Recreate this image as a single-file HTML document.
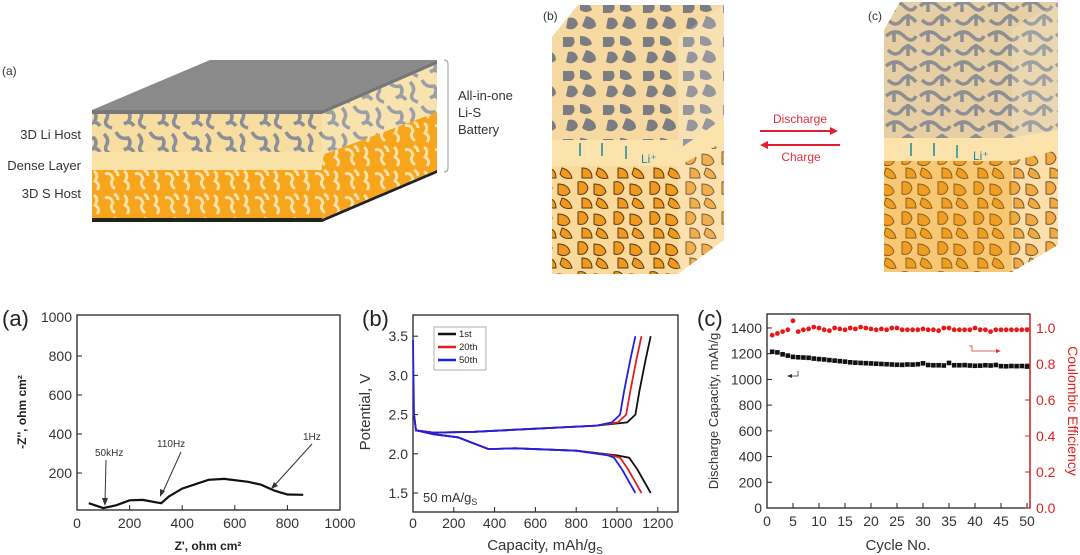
<!DOCTYPE html>
<html><head><meta charset="utf-8"><style>
html,body{margin:0;padding:0;background:#fff;}
svg{display:block;font-family:"Liberation Sans",Arial,sans-serif;}
</style></head><body>
<svg id="s" width="1080" height="555" viewBox="0 0 1080 555" xmlns="http://www.w3.org/2000/svg">
<defs>
<pattern id="li" width="34" height="26" patternUnits="userSpaceOnUse">
<rect width="34" height="26" fill="#f7dea0"/>
<path d="M2 4 q6 6 2 12 q-2 6 6 8 M14 2 q4 8 12 6 q4 4 0 10 M22 20 q6-4 10 2" stroke="#8a8e99" stroke-width="3.5" fill="none"/>
</pattern>
<pattern id="sh" width="30" height="24" patternUnits="userSpaceOnUse">
<rect width="30" height="24" fill="#f6a51c"/>
<path d="M4 3 q5 4 1 10 q6 4 2 9 M15 6 q6-2 8 5 q-4 5 2 10 M24 2 q4 2 4 6" stroke="#fbe0a8" stroke-width="3" fill="none"/>
</pattern>
<pattern id="gb" width="40" height="34" patternUnits="userSpaceOnUse">
<rect width="40" height="34" fill="#f5d9a0"/>
<path d="M3 3 h10 q4 6 -2 10 h-8z M20 2 q10 0 12 8 q-6 4 -12 0z M8 18 q8-2 10 6 q-4 8 -12 4z M26 16 q10 2 10 10 q-6 6 -14 0z" fill="#7b7d83"/>
</pattern>
<pattern id="ob" width="36" height="30" patternUnits="userSpaceOnUse">
<rect width="36" height="30" fill="#fbd99b"/>
<path d="M2 2 q8 -2 10 6 q-2 8 -10 6z M18 4 q10 0 12 8 q-4 6 -12 2z M6 18 q10 0 10 10 h-10z M22 18 q8 2 10 10 q-8 2 -12 -4z" fill="#ef9a1e" stroke="#5a3a10" stroke-width="1"/>
</pattern>
<pattern id="gr" width="34" height="30" patternUnits="userSpaceOnUse">
<rect width="34" height="30" fill="#e7cfa5"/>
<path d="M2 6 q10 -8 18 0 q8 8 12 0 M4 20 q8 8 14 0 q6 -8 14 2 M10 2 v10 M24 14 v12" stroke="#8e8f92" stroke-width="3.5" fill="none"/>
</pattern>
</defs>

<text x="2" y="75" font-size="12" fill="#333">(a)</text>
<polygon points="92,110 210,60 437,60 322,110" fill="#8a8a8a"/>
<rect x="92" y="110" width="230" height="4" fill="#777"/>
<rect x="92" y="114" width="230" height="38" fill="url(#li)"/>
<rect x="92" y="152" width="230" height="18" fill="#fbe3a8"/>
<rect x="92" y="170" width="230" height="49" fill="url(#sh)"/>
<rect x="92" y="218" width="230" height="4" fill="#222"/>
<polygon points="322,114 437,64 437,112 322,155" fill="url(#li)" opacity="0.85"/>
<polygon points="322,110 437,60 437,64 322,114" fill="#777"/>
<polygon points="322,155 437,112 437,170 322,219" fill="url(#sh)"/>
<polygon points="322,219 437,170 437,173 322,222" fill="#222"/>
<g font-size="13" fill="#333" text-anchor="end">
<text x="81" y="139">3D Li Host</text><text x="81" y="170">Dense Layer</text><text x="81" y="198">3D S Host</text></g>
<path d="M444 60 q4 0 4 4 v104 q0 4 -4 4" stroke="#999" fill="none"/>
<g font-size="13" fill="#333"><text x="458" y="100">All-in-one</text><text x="458" y="117">Li-S</text><text x="458" y="134">Battery</text></g>

<text x="543" y="20" font-size="12" fill="#333">(b)</text>
<polygon points="552,37 578,5 724,5 678,37" fill="url(#gb)"/>
<rect x="552" y="37" width="126" height="104" fill="url(#gb)"/>
<polygon points="678,37 724,5 724,118 678,150" fill="url(#gb)" opacity="0.8"/>
<rect x="552" y="140" width="126" height="26" fill="#fbe3ab"/>
<polygon points="678,150 724,118 724,142 678,166" fill="#fbe3ab"/>
<rect x="552" y="166" width="126" height="108" fill="url(#ob)"/>
<polygon points="678,166 724,142 724,240 678,274" fill="url(#ob)" opacity="0.8"/>
<g stroke="#1a8aa0" stroke-width="1.5" fill="#1a8aa0"><path d="M580 143 v13"/><path d="M602 143 v13"/><path d="M626 146 v13"/></g>
<text x="641" y="163" font-size="12" fill="#1a8aa0">Li⁺</text>

<text x="800" y="123" font-size="12" fill="#e03040" text-anchor="middle">Discharge</text>
<path d="M760 131 h76" stroke="#e02030" stroke-width="2"/><polygon points="838,131 830,127 830,135" fill="#e02030"/>
<path d="M764 145 h76" stroke="#e02030" stroke-width="2"/><polygon points="760,145 768,141 768,149" fill="#e02030"/>
<text x="801" y="161" font-size="12" fill="#e03040" text-anchor="middle">Charge</text>

<text x="868" y="20" font-size="12" fill="#333">(c)</text>
<polygon points="884,30 900,2 1058,2 1012,30" fill="url(#gr)"/>
<rect x="884" y="30" width="128" height="108" fill="url(#gr)"/>
<polygon points="1012,30 1058,2 1058,130 1012,138" fill="url(#gr)" opacity="0.85"/>
<rect x="884" y="138" width="128" height="23" fill="#fbe3ab"/>
<polygon points="1012,138 1058,130 1058,150 1012,161" fill="#fbe3ab"/>
<rect x="884" y="161" width="128" height="111" fill="url(#ob)"/>
<rect x="884" y="161" width="128" height="111" fill="#f3a52a" opacity="0.35"/>
<polygon points="1012,161 1058,150 1058,245 1012,272" fill="url(#ob)" opacity="0.85"/>
<g stroke="#1a8aa0" stroke-width="1.5" fill="none"><path d="M911 156 v-13"/><path d="M934 156 v-13"/><path d="M957 158 v-13"/></g>
<text x="973" y="160" font-size="12" fill="#1a8aa0">Li⁺</text>

<text x="2" y="326" font-size="22" fill="#222">(a)</text>
<rect x="77" y="315" width="263" height="195" fill="none" stroke="#222" stroke-width="1.3"/>
<g id="axa" font-size="14" fill="#333"></g>
<path d="M88.8,503.2 L103.3,508.1 L116.5,505.2 L129.6,500.3 L142.8,499.9 L155.9,502.3 L161.2,503.2 L169,496.4 L182.2,488.6 L208.5,479.8 L224.3,478.9 L248,481.8 L261.1,484.7 L274.3,490.6 L287.4,494.5 L303.2,494.8" stroke="#111" stroke-width="2.2" fill="none"/>
<g font-size="10" fill="#333"><text x="95" y="456">50kHz</text><text x="157" y="447">110Hz</text><text x="303" y="440">1Hz</text></g>
<g stroke="#333" stroke-width="1"><path d="M106 460 L105 502"/><path d="M181 452 L162 494"/><path d="M312 444 L274 486"/></g>
<g fill="#333"><polygon points="105,506 102,498 108,498"/><polygon points="160,497 160,489 165,491"/><polygon points="271,489 274,482 278,486"/></g>
<text x="208" y="550" font-size="12" font-weight="bold" text-anchor="middle" fill="#222">Z', ohm cm²</text>
<text transform="translate(26,412) rotate(-90)" font-size="12" font-weight="bold" text-anchor="middle" fill="#222">-Z'', ohm cm²</text>

<text x="362" y="326" font-size="22" fill="#222">(b)</text>
<rect x="413" y="315" width="265" height="197" fill="none" stroke="#222" stroke-width="1.3"/>
<g id="axb" font-size="14" fill="#333"></g>
<g fill="none" stroke-width="1.8">
<path d="M415,430.3 L433.4,432.6 L474.2,431.8 L535.4,428.7 L596.6,425.6 L627.2,422.4 L635.4,414.6 L639.4,391.1 L645.6,359.7 L650.7,336.2" stroke="#111"/>
<path d="M415,430.3 L433.4,432.6 L474.2,431.8 L535.4,428.7 L596.6,425.6 L618,422.4 L626.2,414.6 L630.3,391.1 L636.4,359.7 L641.5,336.2" stroke="#e02020"/>
<path d="M415,430.3 L433.4,432.6 L474.2,431.8 L535.4,428.7 L596.6,425.6 L611.9,422.4 L620.1,414.6 L624.1,391.1 L630.3,359.7 L635.4,336.2" stroke="#2020e0"/>
<path d="M414,414.6 L416,430.3 L433.4,434.2 L457.9,437.3 L470.1,442 L488.5,449.1 L515,448.3 L576.2,450.7 L617,455.4 L629.2,457.7 L637.4,469.5 L650.7,493" stroke="#111"/>
<path d="M414,414.6 L416,430.3 L433.4,434.2 L457.9,437.3 L470.1,442 L488.5,449.1 L515,448.3 L576.2,450.7 L612,455.4 L620.1,457.7 L628.2,469.5 L641.5,493" stroke="#e02020"/>
<path d="M413,340 L414,414.6 L416,430.3 L433.4,434.2 L457.9,437.3 L470.1,442 L488.5,449.1 L515,448.3 L576.2,450.7 L608,455.4 L614,457.7 L622.1,469.5 L635.4,493" stroke="#2020e0"/>
</g>
<rect x="434" y="327" width="52" height="43" fill="#fff" stroke="#999" stroke-width="0.8"/>
<g stroke-width="2.5"><path d="M438 334 h18" stroke="#111"/><path d="M438 347 h18" stroke="#e02020"/><path d="M438 360 h18" stroke="#2020e0"/></g>
<g font-size="9.5" fill="#222"><text x="459" y="337">1st</text><text x="459" y="350">20th</text><text x="459" y="363">50th</text></g>
<text x="423" y="502" font-size="13" fill="#333">50 mA/g<tspan font-size="9" dy="3">S</tspan></text>
<text x="545" y="550" font-size="15" text-anchor="middle" fill="#333">Capacity, mAh/g<tspan font-size="10" dy="4">S</tspan></text>
<text transform="translate(370,412) rotate(-90)" font-size="15" text-anchor="middle" fill="#333">Potential, V</text>

<text x="697" y="326" font-size="22" fill="#222">(c)</text>
<rect x="767" y="314" width="263" height="194" fill="none" stroke="#222" stroke-width="1.3"/>
<path d="M1030 314 V508" stroke="#e02020" stroke-width="1.3"/>
<g id="axc" font-size="14" fill="#333"></g>
<g id="pts"></g>
<path d="M969 346 h3 v5 h26" stroke="#e03030" fill="none" stroke-width="0.8"/><polygon points="1001,351 996,349 996,353" fill="#e03030"/>
<path d="M792 376 h6 v-5" stroke="#333" fill="none" stroke-width="0.8"/><polygon points="787,376 792,374 792,378" fill="#333"/>
<text x="898" y="550" font-size="15" text-anchor="middle" fill="#333">Cycle No.</text>
<text transform="translate(718,411) rotate(-90)" font-size="13" text-anchor="middle" fill="#333">Discharge Capacity, mAh/g</text>
<text transform="translate(1068,411) rotate(90)" font-size="14" text-anchor="middle" fill="#e02020">Coulombic Efficiency</text>
</svg>
<script>
var NS="http://www.w3.org/2000/svg";
function el(p,t,a,txt){var e=document.createElementNS(NS,t);for(var k in a)e.setAttribute(k,a[k]);if(txt!=null)e.textContent=txt;document.getElementById(p).appendChild(e);}
for(var v=0;v<=1000;v+=200){var x=77+v*0.263;el("axa","text",{x:x,y:528,"text-anchor":"middle"},v);
 if(v>0&&v<1000)el("axa","line",{x1:x,x2:x,y1:510,y2:505,stroke:"#222"});
 var y=512-v*0.195;if(v>0){el("axa","text",{x:72,y:y+5,"text-anchor":"end"},v);if(v<1000)el("axa","line",{x1:77,x2:82,y1:y,y2:y,stroke:"#222"});}}
for(var c=0;c<=1200;c+=200){var x=413+c*0.204;el("axb","text",{x:x,y:528,"text-anchor":"middle"},c);el("axb","line",{x1:x,x2:x,y1:512,y2:507,stroke:"#222"});}
for(var v=1.5;v<=3.51;v+=0.5){var y=493-(v-1.5)*78.4;el("axb","text",{x:408,y:y+5,"text-anchor":"end"},v.toFixed(1));el("axb","line",{x1:413,x2:418,y1:y,y2:y,stroke:"#222"});}
for(var n=0;n<=50;n+=5){var x=767+n*5.2;el("axc","text",{x:x,y:526,"text-anchor":"middle"},n);el("axc","line",{x1:x,x2:x,y1:508,y2:503,stroke:"#222"});}
for(var c=0;c<=1400;c+=200){var y=508-c*0.1286;el("axc","text",{x:762,y:y+5,"text-anchor":"end"},c);el("axc","line",{x1:767,x2:772,y1:y,y2:y,stroke:"#222"});}
for(var i=0;i<=5;i++){var ce=i*0.2,y=508-ce*180;el("axc","text",{x:1036,y:y+5,fill:"#e02020"},ce.toFixed(1));el("axc","line",{x1:1030,x2:1025,y1:y,y2:y,stroke:"#e02020"});}
var cap=[1215,1210,1195,1185,1175,1172,1170,1168,1162,1158,1155,1150,1146,1142,1138,1133,1130,1128,1126,1124,1122,1120,1118,1116,1114,1113,1116,1115,1118,1125,1112,1110,1110,1108,1128,1110,1110,1111,1108,1106,1107,1110,1108,1112,1103,1102,1104,1103,1104,1100];
var ce=[0.96,0.97,0.98,0.99,1.04,0.98,0.99,0.995,1.005,1.0,0.99,0.985,1.0,0.995,0.99,1.0,0.995,1.005,1.0,0.995,0.99,0.995,0.99,1.0,1.0,0.99,0.99,0.99,0.99,0.995,0.99,0.99,0.985,1.0,1.0,0.99,0.99,0.99,0.99,1.0,0.99,0.99,0.98,0.99,0.99,0.99,0.99,0.99,0.99,0.99];
for(var n=1;n<=50;n++){var x=767+n*5.2;el("pts","rect",{x:x-2.3,y:508-cap[n-1]*0.1286-2.3,width:4.6,height:4.6,fill:"#111"});el("pts","circle",{cx:x,cy:508-ce[n-1]*180,r:2.4,fill:"#e81818"});}
</script>
</body></html>
